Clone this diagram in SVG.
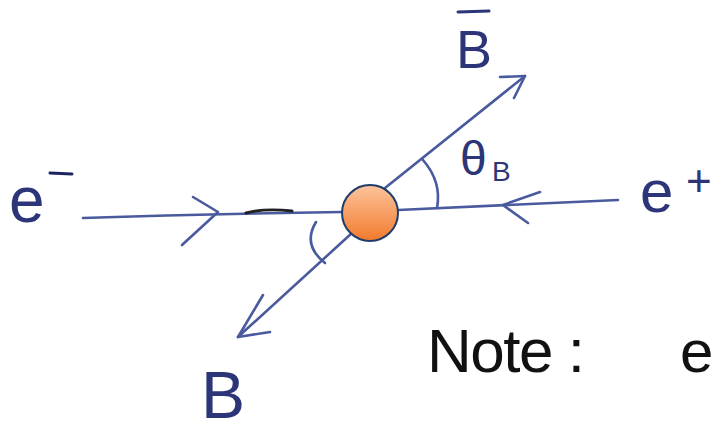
<svg xmlns="http://www.w3.org/2000/svg" width="722" height="432" viewBox="0 0 722 432">
<style>
.ln{fill:none;stroke:#4a5a9e;stroke-width:2.6;stroke-linecap:round;stroke-linejoin:round}
.lbl{font-family:"Liberation Sans",Arial,sans-serif;fill:#2c3577}
.note{font-family:"Liberation Sans",Arial,sans-serif;fill:#111}
</style>
<defs>
<linearGradient id="og" x1="0" y1="0" x2="0" y2="1">
<stop offset="0" stop-color="#fdc49c"/>
<stop offset="1" stop-color="#f27a2c"/>
</linearGradient>
</defs>
<rect width="722" height="432" fill="#fff"/>
<g id="connectors">
<path class="ln" d="M83 218 Q200 214 342 212"/>
<path class="ln" d="M193 197 L218 212 L182 245"/>
<path d="M246 213 Q265 208 292 211" fill="none" stroke="#222" stroke-width="3" stroke-linecap="round"/>
<path class="ln" d="M398 210 L618 200"/>
<path class="ln" d="M540 192 L503 205 L528 223"/>
<path class="ln" d="M380 192 L525 76"/>
<path class="ln" d="M500 77 L525 76 L514 98"/>
<path class="ln" d="M352 233 L238 337"/>
<path class="ln" d="M263 295 L238 337 L270 332"/>
<path class="ln" d="M423 160 Q442 182 437 208"/>
<path class="ln" d="M316 222 Q302 245 325 263"/>
</g>
<g id="vertex">
<circle cx="370" cy="213" r="28" fill="url(#og)" stroke="#1f3d6b" stroke-width="2"/>
</g>
<g id="label-eminus">
<text class="lbl" x="9" y="222" font-size="64">e</text>
<line x1="50" y1="173" x2="72" y2="174" stroke="#1d2560" stroke-width="3" stroke-linecap="round"/>
</g>
<g id="label-eplus">
<text class="lbl" x="640" y="212" font-size="60">e</text>
<text class="lbl" x="686" y="196" font-size="44">+</text>
</g>
<g id="label-bbar">
<text class="lbl" x="456" y="68" font-size="54">B</text>
<line x1="458" y1="12" x2="489" y2="11" stroke="#2c3577" stroke-width="3" stroke-linecap="round"/>
</g>
<g id="label-theta">
<text class="lbl" x="460" y="175" font-size="48">θ</text>
<text class="lbl" x="492" y="181" font-size="28">B</text>
</g>
<g id="label-b">
<text class="lbl" x="201" y="418" font-size="66">B</text>
</g>
<g id="note">
<text class="note" x="427" y="372" font-size="62" textLength="158" lengthAdjust="spacing">Note :</text>
<text class="note" x="680" y="372" font-size="60">e</text>
</g>
</svg>
